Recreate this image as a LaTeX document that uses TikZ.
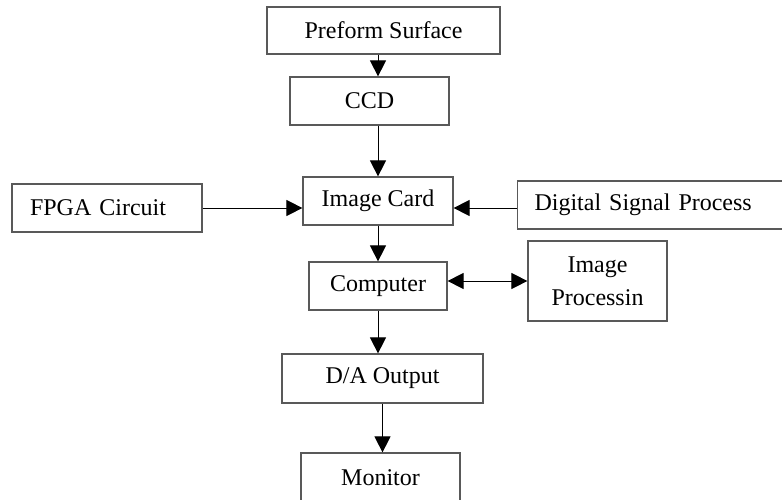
\documentclass[tikz,border=0pt]{standalone}
\usepackage{fontspec}
\setmainfont{Liberation Serif}
\usetikzlibrary{arrows.meta}
\tikzset{
  box/.style={draw=black!65, line width=1.2pt, rectangle, inner sep=0pt, font=\fontsize{24}{33}\selectfont, text=black},
  arr/.style={draw=black, line width=1pt, -{Triangle[length=16pt,width=16pt]}},
  darr/.style={draw=black, line width=1pt, {Triangle[length=16pt,width=16pt]}-{Triangle[length=16pt,width=16pt]}}
}
\begin{document}
\begin{tikzpicture}[x=1pt,y=-1pt]
\clip (0,0) rectangle (782,500);
\fill[white] (0,0) rectangle (782,500);
\node[box, minimum width=233pt, minimum height=47pt] (pre) at (383.5,30.5) {Preform Surface};
\node[box, minimum width=159pt, minimum height=48pt] (cc) at (369.5,101) {CCD};
\node[box, minimum width=150pt, minimum height=48pt] (ic) at (378,201) {Image Card};
\node[box, minimum height=48pt, text width=154pt, inner xsep=18pt, align=left] (fpga) at (107,208) {FPGA Circuit};
\node[box, minimum height=48pt, text width=240pt, inner xsep=17pt, align=left] (dsp) at (654.5,205) {Digital Signal Process};
\node[box, minimum width=138pt, minimum height=48pt] (comp) at (378,286) {Computer};
\node[box, minimum width=139pt, minimum height=80pt, align=center] (ip) at (597.5,281) {Image\\Processin};
\node[box, minimum width=201pt, minimum height=49pt] (da) at (382.5,378.5) {D/A Output};
\node[box, minimum width=159pt, minimum height=49pt] (mon) at (380.5,477.5) {Monitor};
\draw[arr] (pre.south -| ic) -- (cc.north -| ic);
\draw[arr] (cc.south -| ic) -- (ic.north);
\draw[arr] (fpga.east) -- (fpga.east -| ic.west);
\draw[arr] (dsp.west |- fpga.east) -- (ic.east |- fpga.east);
\draw[arr] (ic.south) -- (comp.north);
\draw[darr] (comp.east |- ip.west) -- (ip.west);
\draw[arr] (comp.south) -- (da.north -| comp.south);
\draw[arr] (da.south) -- (mon.north -| da.south);
\end{tikzpicture}
\end{document}
